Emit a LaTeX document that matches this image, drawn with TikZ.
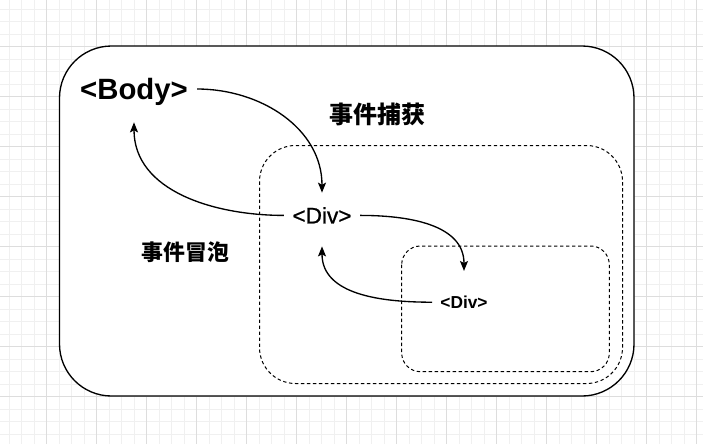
\documentclass[tikz,border=0pt]{standalone}
\usepackage{fontspec}
\setmainfont{Liberation Sans}
\newfontfamily\cjk{Noto Sans CJK SC}
\usepackage{tikz}
\usetikzlibrary{arrows.meta}

\definecolor{gridminor}{HTML}{F0F0F0}
\definecolor{gridmajor}{HTML}{DDDDDD}

\begin{document}
\begin{tikzpicture}[x=0.75pt, y=-0.75pt,
    tag/.style={text depth=0pt},
    zone/.style={draw=black, line width=0.75pt, dash pattern=on 2.5pt off 2pt},
    flow/.style={-{Stealth[length=7.5pt, width=6pt, inset=1.5pt]}, line width=1pt}]
    \useasboundingbox (0,0) rectangle (703,444);
    %Grid
    \foreach \i in {0,...,55} \draw[gridminor, line width=0.75pt] ({9.2+12.5*\i},0) -- ({9.2+12.5*\i},444);
    \foreach \i in {0,...,34} \draw[gridminor, line width=0.75pt] (0,{9.2+12.5*\i}) -- (703,{9.2+12.5*\i});
    \foreach \i in {0,...,13} \draw[gridmajor, line width=0.75pt] ({46.7+50*\i},0) -- ({46.7+50*\i},444);
    \foreach \i in {0,...,7} \draw[gridmajor, line width=0.75pt] (0,{46.7+50*\i}) -- (703,{46.7+50*\i});

    %Boxes
    \draw[fill=white, line width=1pt, rounded corners=39pt] (59.5,46) rectangle (634,396);
    \draw[zone, rounded corners=27pt] (259.5,145.5) rectangle (622.5,383.5);
    \draw[zone, rounded corners=14pt] (401.7,246) rectangle (609.3,371.7);

    %Nodes
    \node[tag, font=\fontsize{22pt}{26pt}\selectfont\bfseries, text height=15.8pt, inner xsep=6.75pt, inner ysep=16.9pt] at (134, 89) (body) {<Body>};
    \node[tag, font=\fontsize{16.9pt}{20pt}\selectfont\addfontfeature{FakeBold=0.8}, text height=12.1pt, inner xsep=6.4pt, inner ysep=10.8pt] at (322, 215.4) (div) {<Div>};
    \node[tag, font=\fontsize{13pt}{16pt}\selectfont\bfseries, text height=9.3pt, inner xsep=6pt, inner ysep=18.6pt] at (464, 302.2) (sub) {<Div>};
    \node[inner sep=0, font=\cjk\fontsize{18pt}{22pt}\selectfont\bfseries] at (377, 114) (capture) {事件捕获};
    \node[inner sep=0, font=\cjk\fontsize{16.4pt}{20pt}\selectfont\bfseries] at (185.5, 252) (bubble) {事件冒泡};

    %Lines
    \draw[flow] (body.east) .. controls +(64,0) and +(0,-64) .. (div.north);
    \draw[flow] (div.west) .. controls +(-69,0) and +(0,69) .. (body.south);
    \draw[flow] (div.east) .. controls +(47,0) and +(0,-47) .. (sub.north);
    \draw[flow] (sub.west) .. controls +(-49,0) and +(0,49) .. ([yshift=-6.2pt]div.south);
\end{tikzpicture}
\end{document}
